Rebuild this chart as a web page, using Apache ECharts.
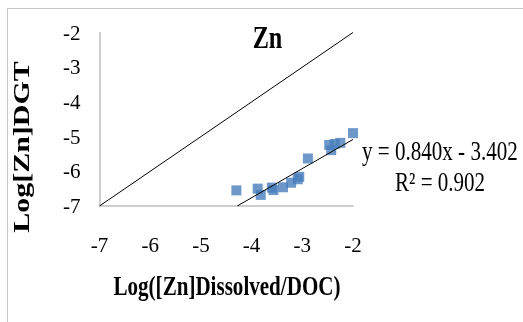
<!DOCTYPE html>
<html>
<head>
<meta charset="utf-8">
<script src="https://cdn.jsdelivr.net/npm/echarts@6/dist/echarts.min.js"></script>
<style>
  html, body { margin: 0; padding: 0; background: #fff; }
  #chart { width: 523px; height: 322px; }
  .frame { position: absolute; left: 7px; top: 8px; right: -2px; bottom: -2px;
           border-left: 1.5px solid #c8c8c8; border-top: 1.5px solid #c8c8c8; pointer-events: none; }
</style>
</head>
<body>
<div id="chart"></div>
<div class="frame"></div>
<script>
// measured points: log dissolved/DOC vs log DGT
const xValues = [-4.30, -3.88, -3.82, -3.60, -3.57, -3.38, -3.22, -3.09, -3.06, -2.89, -2.47, -2.43, -2.36, -2.25, -2.00];
const yValues = [-6.55, -6.50, -6.68, -6.47, -6.54, -6.46, -6.33, -6.23, -6.16, -5.63, -5.24, -5.39, -5.21, -5.18, -4.90];
const oneToOne = [[-7, -7], [-2, -2]];
const trendEnds = [[-4.283, -7], [-2, -5.082]];
const titleText = 'Zn';
const xName = 'Log([Zn]Dissolved/DOC)';
const yName = 'Log[Zn]DGT';
const equationText = 'y = 0.840x - 3.402';
const r2Text = 'R² = 0.902';
const xTicks = [-7, -6, -5, -4, -3, -2];
const yTicks = [-7, -6, -5, -4, -3, -2];

const serif = '"Liberation Serif", "Times New Roman", serif';
// the original text looks narrow, so squeeze it a bit
const squeeze = 0.78;
const chart = echarts.init(document.getElementById('chart'));

const option = {
  animation: false,
  grid: { left: 99.5, right: 170, top: 32.5, bottom: 116 },
  xAxis: {
    type: 'value',
    min: xTicks[0],
    max: xTicks[xTicks.length - 1],
    interval: 1,
    axisLine: { lineStyle: { color: '#bfbfbf', width: 1.5 } },
    axisTick: { show: false },
    splitLine: { show: false },
    axisLabel: { margin: 30, fontFamily: serif, fontSize: 21, color: '#000' }
  },
  yAxis: {
    type: 'value',
    min: yTicks[0],
    max: yTicks[yTicks.length - 1],
    interval: 1,
    axisLine: { show: true, lineStyle: { color: '#bfbfbf', width: 1.5 } },
    axisTick: { show: false },
    splitLine: { show: false },
    axisLabel: { margin: 19, fontFamily: serif, fontSize: 21, color: '#000', verticalAlign: 'top', padding: [-9, 0, 0, 0] }
  },
  series: [
    {
      type: 'line',
      data: oneToOne,
      showSymbol: false,
      lineStyle: { color: '#000', width: 1 },
      z: 1
    },
    {
      type: 'scatter',
      data: xValues.map((x, i) => [x, yValues[i]]),
      symbol: 'rect',
      symbolSize: 10,
      itemStyle: { color: '#4a7ebb' },
      z: 2
    },
    {
      type: 'line',
      data: trendEnds,
      showSymbol: false,
      lineStyle: { color: '#000', width: 1 },
      z: 3
    }
  ],
  graphic: [
    {
      type: 'text', x: 267.5, y: 40, scaleX: squeeze,
      style: { text: titleText, font: 'bold 31px ' + serif, fill: '#000', align: 'center', verticalAlign: 'middle' }
    },
    {
      type: 'text', x: 227, y: 288, scaleX: squeeze,
      style: { text: xName, font: 'bold 27px ' + serif, fill: '#000', align: 'center', verticalAlign: 'middle' }
    },
    {
      type: 'text', x: 23, y: 147, rotation: Math.PI / 2, scaleY: squeeze,
      style: { text: yName, font: 'bold 30px ' + serif, fill: '#000', align: 'center', verticalAlign: 'middle' }
    },
    {
      type: 'text', x: 362, y: 153, scaleX: squeeze,
      style: { text: equationText, font: '27px ' + serif, fill: '#000', align: 'left', verticalAlign: 'middle' }
    },
    {
      type: 'text', x: 395, y: 184, scaleX: squeeze,
      style: { text: r2Text, font: '27px ' + serif, fill: '#000', align: 'left', verticalAlign: 'middle' }
    }
  ]
};

chart.setOption(option);
</script>
</body>
</html>
